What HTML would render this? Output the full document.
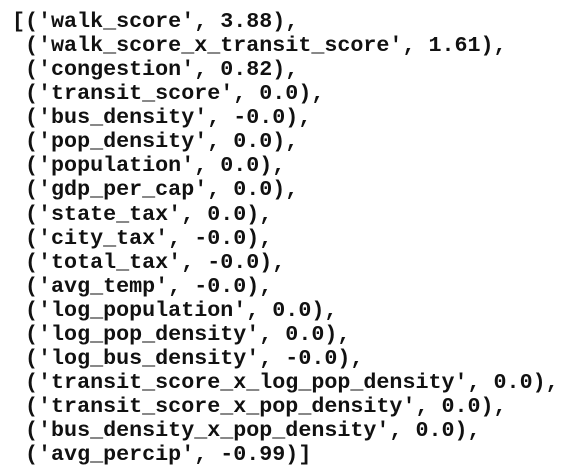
<!DOCTYPE html>
<html><head><meta charset="utf-8">
<style>
html,body{margin:0;padding:0;background:#fff;width:580px;height:472px;overflow:hidden}
pre{position:absolute;left:12px;top:10px;margin:0;font-family:"Liberation Mono",monospace;font-size:21.7px;line-height:24.06px;font-weight:bold;color:#111;letter-spacing:0}
</style></head>
<body>
<pre>[('walk_score', 3.88),
 ('walk_score_x_transit_score', 1.61),
 ('congestion', 0.82),
 ('transit_score', 0.0),
 ('bus_density', -0.0),
 ('pop_density', 0.0),
 ('population', 0.0),
 ('gdp_per_cap', 0.0),
 ('state_tax', 0.0),
 ('city_tax', -0.0),
 ('total_tax', -0.0),
 ('avg_temp', -0.0),
 ('log_population', 0.0),
 ('log_pop_density', 0.0),
 ('log_bus_density', -0.0),
 ('transit_score_x_log_pop_density', 0.0),
 ('transit_score_x_pop_density', 0.0),
 ('bus_density_x_pop_density', 0.0),
 ('avg_percip', -0.99)]</pre>
</body></html>
